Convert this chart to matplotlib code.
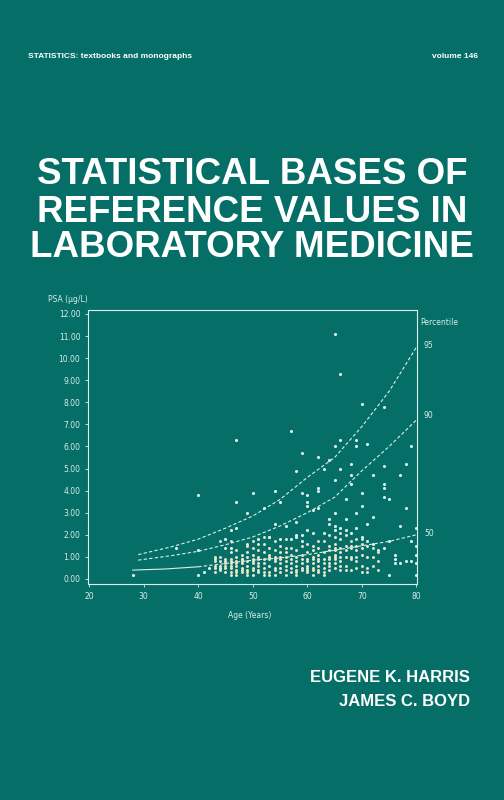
import matplotlib
matplotlib.use("Agg")
import matplotlib.pyplot as plt

BG = "#046e67"
FG = "#d9efe9"
PT = "#eee6cc"

curve_age = [29, 35, 40, 45, 50, 55, 60, 65, 70, 75, 80]
p95 = [1.1, 1.45, 1.8, 2.3, 2.85, 3.6, 4.6, 5.5, 6.9, 8.5, 10.5]
p90 = [0.85, 1.05, 1.25, 1.55, 1.9, 2.4, 3.0, 3.7, 4.9, 6.0, 7.2]
p50_age = [28, 34, 40, 45, 50, 55, 60, 65, 70, 75, 80]
p50 = [0.4, 0.45, 0.55, 0.7, 0.85, 0.95, 1.1, 1.3, 1.5, 1.7, 2.0]

out_age = [28,36,40,40,40,47,47,46,47,45,49,50,52,54,55,54,57,58,59,59,60,60,60,61,62,62,62,62,63,64,
           65,65,65,65,66,66,66,67,67,68,68,68,69,69,69,70,70,70,71,71,72,72,74,74,74,74,74,75,77,77,
           78,78,79,80,80,80,80,80,79,79,78,77,76,76,76,75,75,74,73,58,56,55,57,58,58,59,59,60,61,63,
           64,64,65,65,66,67,68,69,70,71,72,41,42,44,46,48,51,53]
out_psa = [0.2,1.4,3.8,1.3,0.2,6.3,3.5,2.2,2.3,1.8,3.0,3.9,3.2,4.0,3.5,2.5,6.7,4.9,5.7,3.9,3.8,3.5,3.3,3.1,3.2,4.0,4.1,5.5,5.0,5.4,
           11.1,6.0,4.5,3.0,9.3,6.3,5.0,3.6,2.7,5.2,4.7,4.3,6.3,6.0,3.0,7.9,3.9,3.3,6.1,2.5,4.7,2.8,7.8,5.1,4.3,4.1,3.7,3.6,4.7,2.4,
           5.2,3.2,6.0,2.3,1.5,1.1,0.7,0.2,1.7,0.8,0.8,0.7,1.1,0.9,0.7,0.2,1.7,1.4,1.3,2.6,2.4,1.8,1.8,2.0,1.9,2.0,1.7,2.2,2.1,2.1,
           2.7,2.5,2.4,2.2,2.3,2.2,2.1,2.3,1.9,1.7,1.6,0.3,0.5,0.5,1.4,0.9,1.8,1.9]

cl_age = ([43]*6 + [44]*5 + [45]*7 + [46]*9 + [47]*8 + [48]*7 + [49]*9 + [50]*9 + [51]*8 + [52]*8 +
          [53]*8 + [54]*8 + [55]*7 + [56]*8 + [57]*6 + [58]*7 + [59]*6 + [60]*8 + [61]*8 + [62]*8 +
          [63]*7 + [64]*8 + [65]*9 + [66]*8 + [67]*6 + [68]*6 + [69]*6 + [70]*6 + [71]*4 + [72]*3 + [73]*3)
cl_psa = ([0.3,0.5,0.6,0.8,0.9,1.0] + [0.4,0.6,0.8,1.0,1.7] + [0.3,0.5,0.6,0.7,0.8,0.9,1.4] +
          [0.2,0.3,0.5,0.6,0.7,0.8,0.9,1.2,1.7] + [0.2,0.3,0.4,0.6,0.7,0.8,1.0,1.3] +
          [0.3,0.4,0.5,0.7,0.8,0.9,1.1] + [0.2,0.3,0.4,0.6,0.8,1.0,1.2,1.5,1.6] +
          [0.2,0.4,0.5,0.7,0.8,0.9,1.1,1.4,1.7] + [0.3,0.4,0.6,0.7,0.9,1.0,1.3,1.6] +
          [0.2,0.3,0.5,0.7,0.9,1.2,1.6,1.9] + [0.2,0.3,0.6,0.9,1.0,1.1,1.4,1.9] +
          [0.2,0.4,0.5,0.8,0.9,1.0,1.3,1.7] + [0.3,0.5,0.7,0.9,1.0,1.2,1.5] +
          [0.2,0.4,0.6,0.8,1.0,1.2,1.4,1.8] + [0.3,0.5,0.7,0.9,1.1,1.4] +
          [0.2,0.3,0.4,0.6,0.8,1.0,1.3] + [0.4,0.5,0.7,0.9,1.1,1.5] +
          [0.3,0.4,0.5,0.6,0.8,0.9,1.2,1.6] + [0.2,0.4,0.5,0.7,0.9,1.0,1.3,1.5] +
          [0.3,0.4,0.6,0.8,0.9,1.1,1.4,1.7] + [0.2,0.3,0.5,0.7,0.9,1.2,1.7] +
          [0.4,0.6,0.7,0.9,1.0,1.3,1.5,2.0] + [0.5,0.7,0.9,1.0,1.1,1.3,1.4,1.6,1.9] +
          [0.4,0.6,0.8,1.0,1.2,1.4,1.8,2.1] + [0.4,0.6,1.0,1.3,1.5,2.0] +
          [0.4,0.9,1.0,1.4,1.5,1.7] + [0.5,0.8,1.0,1.3,1.5,1.8] + [0.3,0.6,1.1,1.4,1.6,1.8] +
          [0.3,0.5,1.0,1.5] + [0.6,1.0,1.4] + [0.4,0.8,1.2])

fig = plt.figure(figsize=(5.04, 8), dpi=100)
fig.patch.set_facecolor(BG)
ax = fig.add_axes([88/504, 216/800, 329/504, 274/800])
ax.set_facecolor(BG)
ax.plot(curve_age, p95, ls=(0, (3, 2)), color=FG, lw=0.8)
ax.plot(curve_age, p90, ls=(0, (3, 2)), color=FG, lw=0.8)
ax.plot(p50_age[:3], p50[:3], color=FG, lw=0.8)
ax.plot(p50_age[2:], p50[2:], ls=(0, (3, 2)), color=FG, lw=0.8)
ax.scatter(out_age, out_psa, s=5, color=FG, lw=0, zorder=3)
ax.scatter(cl_age, cl_psa, s=4.5, color=PT, lw=0, zorder=3)
ax.set_xlim(19.8, 80.1)
ax.set_ylim(-0.23, 12.18)
ax.set_xticks(range(20, 81, 10))
ax.set_yticks(range(0, 13))
ax.set_yticklabels([f"{v:.2f}" for v in range(0, 13)])
ax.tick_params(colors=FG, labelsize=5.5, length=2, width=0.6)
for s in ax.spines.values():
    s.set_color(FG); s.set_linewidth(0.8)

fig.text(48/504, 1-300/800, "PSA (μg/L)", color=FG, fontsize=5.5, va="center")
fig.text(250/504, 1-615/800, "Age (Years)", color=FG, fontsize=5.5, ha="center", va="center")
fig.text(420/504, 1-322/800, "Percentile", color=FG, fontsize=5.5, va="center")
for lab, y in [("95", 346), ("90", 416), ("50", 533)]:
    fig.text(424/504, 1-y/800, lab, color=FG, fontsize=5.5, va="center")

fig.text(28/504, 1-56/800, "STATISTICS: textbooks and monographs", color="white",
         fontsize=6, fontweight="bold", va="center", family="Liberation Sans")
fig.text(478/504, 1-56/800, "volume 146", color="white", fontsize=6, fontweight="bold",
         ha="right", va="center", family="Liberation Sans")
for line, y in [("STATISTICAL BASES OF", 175), ("REFERENCE VALUES IN", 212), ("LABORATORY MEDICINE", 247)]:
    fig.text(252/504, 1-y/800, line, color="white", fontsize=26.5, fontweight="bold",
             ha="center", va="center", family="Liberation Sans")
fig.text(470/504, 1-678/800, "EUGENE K. HARRIS", color="white", fontsize=12, fontweight="bold",
         ha="right", va="center", family="Liberation Sans")
fig.text(470/504, 1-701/800, "JAMES C. BOYD", color="white", fontsize=12, fontweight="bold",
         ha="right", va="center", family="Liberation Sans")
fig.savefig("out.png", dpi=100, facecolor=BG)
